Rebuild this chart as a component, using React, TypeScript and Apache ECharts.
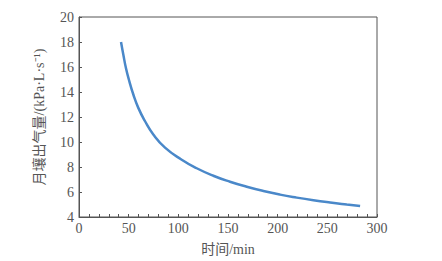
import React, { useEffect, useRef } from "react";
import * as echarts from "echarts";

const timeMin = [42.3, 44.6, 47.3, 50.7, 54.7, 59.7, 66.5, 74.8, 86.6, 103, 118.5, 135.2, 152, 168.9, 185.6, 202.4, 219.2, 236, 252.8, 269.6, 283];
const outgas = [18.0, 17.0, 15.9, 14.85, 13.8, 12.73, 11.66, 10.6, 9.55, 8.6, 7.9, 7.3, 6.82, 6.42, 6.08, 5.79, 5.55, 5.34, 5.16, 5.0, 4.88];
const yTicks = [4, 6, 8, 10, 12, 14, 16, 18, 20];

const FONT = "Liberation Serif, Noto Sans CJK SC, serif";

export default function App() {
  const ref = useRef<HTMLDivElement>(null);
  useEffect(() => {
    if (!ref.current) return;
    const chart = echarts.init(ref.current, undefined, { renderer: "svg" });
    const data = timeMin.map((t, i) => [t, outgas[i]]);
    chart.setOption({
      animation: false,
      backgroundColor: "#ffffff",
      grid: { left: 79, right: 65, top: 17, bottom: 43, containLabel: false, show: true, borderColor: "#555", borderWidth: 1 },
      xAxis: {
        type: "value",
        min: 0,
        max: 300,
        interval: 50,
        name: "时间/min",
        nameLocation: "middle",
        nameGap: 25,
        nameTextStyle: { fontFamily: FONT, fontSize: 14, color: "#555" },
        axisLine: { show: true, lineStyle: { color: "#555", width: 1 } },
        axisTick: { show: true, inside: true, length: 3, lineStyle: { color: "#555" } },
        minorTick: { show: true, splitNumber: 5, length: 3, lineStyle: { color: "#555" } },
        axisLabel: { fontFamily: FONT, fontSize: 14, color: "#555", margin: 4 },
        splitLine: { show: false },
      },
      yAxis: {
        type: "value",
        min: yTicks[0],
        max: yTicks[yTicks.length - 1],
        interval: 2,
        name: "月壤出气量/(kPa·L·s⁻¹)",
        nameLocation: "middle",
        nameGap: 33,
        nameTextStyle: { fontFamily: FONT, fontSize: 14, color: "#555" },
        axisLine: { show: true, lineStyle: { color: "#555", width: 1 } },
        axisTick: { show: true, inside: true, length: 3, lineStyle: { color: "#555" } },
        axisLabel: { fontFamily: FONT, fontSize: 14, color: "#555", margin: 5 },
        splitLine: { show: false },
      },
      series: [
        {
          type: "line",
          data,
          smooth: 0.5,
          showSymbol: false,
          symbol: "none",
          lineStyle: { color: "#4a88c9", width: 2.5 },
        },
      ],
    });
    return () => chart.dispose();
  }, []);
  return <div ref={ref} style={{ width: 442, height: 261, position: "absolute", left: 0, top: 0 }} />;
}
